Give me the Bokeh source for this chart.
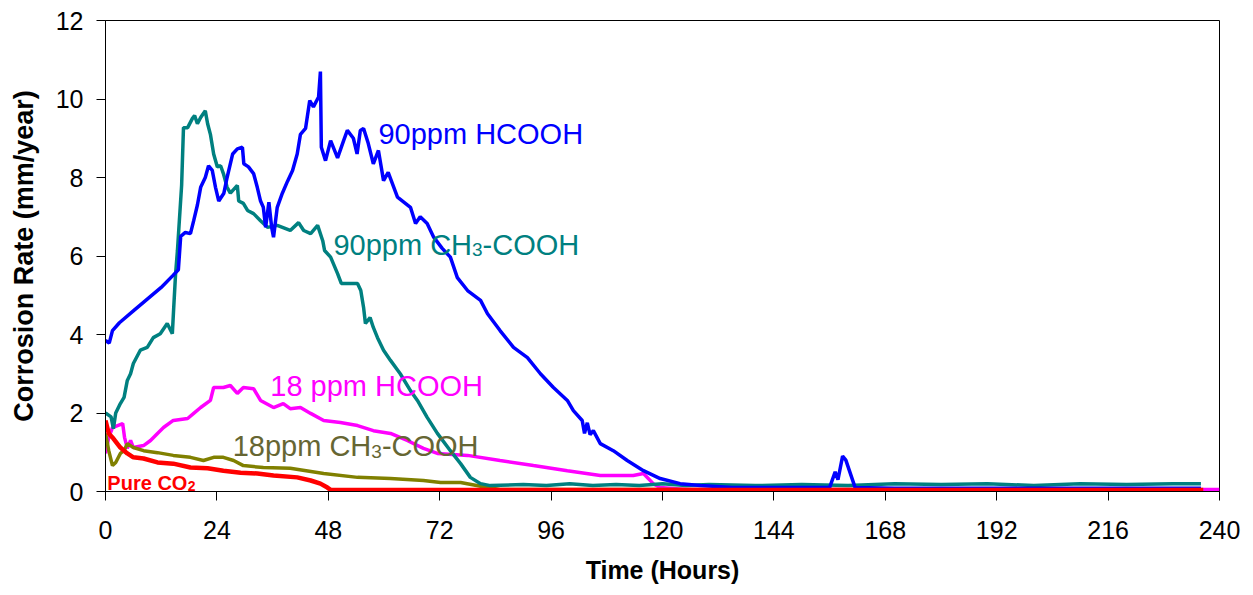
from bokeh.plotting import figure
from bokeh.models import FixedTicker, Range1d
from bokeh.core.properties import value
from bokeh.embed import file_html
from bokeh.resources import INLINE

# ---- data ----
x_ticks = [0, 24, 48, 72, 96, 120, 144, 168, 192, 216, 240]
y_ticks = [0, 2, 4, 6, 8, 10, 12]

hcooh90_t = [0, 0.8, 1.5, 3, 6, 9, 12, 14.5, 15.7, 16.2, 17.2, 18.3, 19, 19.8, 20.5, 21.5, 22.2, 23, 23.7, 24.4,
             25.5, 26.2, 27.4, 28.4, 29.5, 29.8, 30.8, 31.9, 32.7, 33.4, 34, 34.5, 35.2, 35.8, 36.2, 37, 38.1, 39.2,
             40.3, 41.3, 42, 43.1, 44, 44.8, 45.9, 46.3, 46.5, 47.4, 48.5, 50, 51.3, 52.1, 53.4, 54.2, 54.9, 55.6,
             56.6, 57.7, 58.8, 59.9, 60.9, 62.9, 65.7, 66.8, 67.8, 69.3, 70.7, 72.5, 74.3, 75.8, 78, 80.8, 82.3, 85,
             87.9, 90.9, 93.7, 96.5, 99.5, 100.8, 102.7, 103.2, 103.8, 104.4, 105.1, 106.6, 109.4, 112.4, 115.9,
             119.5, 123.8, 128.2, 135, 145, 156, 157.2, 157.8, 158.8, 159.5, 161.5, 170, 200, 236]
hcooh90_r = [3.85, 3.78, 4.1, 4.3, 4.6, 4.9, 5.2, 5.5, 5.65, 6.5, 6.6, 6.57, 6.9, 7.3, 7.75, 8.0, 8.3, 8.18, 7.75, 7.4,
             7.6, 8.0, 8.6, 8.73, 8.77, 8.35, 8.27, 8.1, 7.75, 7.4, 7.24, 6.73, 7.37, 6.73, 6.48, 7.24, 7.6, 7.9,
             8.18, 8.6, 9.1, 9.25, 9.96, 9.8, 10.05, 10.7, 8.77, 8.43, 8.94, 8.5, 8.94, 9.2, 9.0, 8.6, 9.2, 9.25,
             8.87, 8.35, 8.69, 7.92, 8.13, 7.5, 7.24, 6.83, 7.0, 6.83, 6.48, 6.2, 5.97, 5.45, 5.12, 4.87, 4.53, 4.1,
             3.67, 3.41, 3.0, 2.65, 2.32, 2.06, 1.81, 1.48, 1.75, 1.45, 1.55, 1.22, 1.04, 0.79, 0.53,
             0.33, 0.2, 0.15, 0.1, 0.1, 0.1, 0.5, 0.3, 0.9, 0.8, 0.1, 0.08, 0.08, 0.08]

acetic90_t = [0, 1.2, 1.7, 2.2, 3.2, 4, 4.7, 5.4, 6, 7.5, 9, 10.3, 11.8, 13.3, 14.4, 14.7, 15.1, 15.5, 16.4, 16.8,
              17.7, 18.7, 19.2, 19.8, 20.5, 21.5, 22, 22.6, 23.3, 24.1, 24.8, 25.4, 26.2, 26.9, 28.4, 28.7, 29.7,
              30.6, 31.9, 33.4, 34.9, 37, 39.8, 41.6, 42.7, 44.2, 45.7, 46.8, 47.2, 48.5, 50, 50.8, 52.1, 54.3, 55,
              55.6, 56, 57, 57.7, 58.6, 59.9, 61.4, 63.5, 65.7, 67.2, 69.3, 71.5, 74.3, 76.5, 78.6, 80.8, 82.9,
              90, 95, 100, 105, 110, 115, 120, 125, 130, 140, 150, 160, 170, 180, 190, 200, 210, 220, 230, 236]
acetic90_r = [2.0, 1.9, 1.6, 2.0, 2.24, 2.4, 2.83, 3.0, 3.26, 3.6, 3.67, 3.92, 4.02, 4.28, 4.02, 4.69, 5.55, 6.14, 7.8, 9.27,
              9.27, 9.5, 9.58, 9.37, 9.53, 9.7, 9.37, 9.1, 8.6, 8.27, 8.3, 8.1, 7.75, 7.6, 7.8, 7.4, 7.34,
              7.16, 7.08, 6.9, 6.73, 6.78, 6.65, 6.85, 6.65, 6.57, 6.78, 6.39, 6.14, 5.97, 5.55, 5.3, 5.3, 5.3, 5.12,
              4.69, 4.28, 4.43, 4.18, 3.92, 3.6, 3.34, 3.0, 2.57, 2.32, 1.89, 1.48, 1.04, 0.71, 0.36, 0.2, 0.15,
              0.18, 0.15, 0.2, 0.15, 0.18, 0.15, 0.2, 0.15, 0.18, 0.15, 0.18, 0.15, 0.2, 0.18, 0.2, 0.15, 0.2, 0.18, 0.2, 0.2]

hcooh18_t = [0, 0.7, 1.5, 2.6, 3.7, 4.1, 4.7, 5.4, 6, 8.2, 9.7, 11.2, 12.5, 14.6, 17.7, 19, 20.5, 22.6, 23.3, 25.4,
             26.9, 28.4, 29.7, 31.9, 33.4, 36.2, 38.3, 39.8, 42, 44.2, 47, 50.6, 54.3, 57.7, 61.4, 65, 68.5, 71.5,
             78, 85, 92.2, 99.5, 106.6, 113.7, 115.9, 118, 119.5, 125, 240]
hcooh18_r = [0.97, 1.38, 1.63, 1.68, 1.73, 1.38, 1.1, 1.3, 1.12, 1.17, 1.3, 1.48, 1.63, 1.81, 1.86, 1.99, 2.14, 2.32, 2.65, 2.65,
             2.7, 2.5, 2.65, 2.62, 2.32, 2.14, 2.24, 2.11, 2.14, 1.99, 1.81, 1.76, 1.68, 1.55, 1.48, 1.3, 1.1, 0.97,
             0.92, 0.79, 0.66, 0.53, 0.41, 0.41, 0.46, 0.2, 0.1, 0.05, 0.05]

acetic18_t = [0, 0.7, 1.5, 2.2, 3.2, 4, 4.7, 6, 8.2, 11.2, 14.6, 18.3, 21.1, 23.3, 25.4, 27.6, 29.7, 34, 39.8, 47,
              54.3, 61.4, 68.5, 72.2, 76.5, 81.4, 85, 236]
acetic18_r = [1.48, 1.04, 0.66, 0.74, 0.97, 1.04, 1.22, 1.12, 1.04, 0.99, 0.92, 0.87, 0.79, 0.87, 0.87, 0.79, 0.66, 0.61, 0.59, 0.46,
              0.36, 0.33, 0.28, 0.23, 0.23, 0.12, 0.05, 0.05]

co2_t = [0, 0.7, 1.7, 3.2, 4.7, 6, 8.2, 11.2, 14.6, 18.3, 22, 25.4, 29.1, 32.7, 36.2, 41.3, 44.2, 46.3, 47.8, 48.5, 236.5]
co2_r = [1.81, 1.48, 1.35, 1.12, 0.97, 0.87, 0.84, 0.74, 0.71, 0.61, 0.59, 0.53, 0.48, 0.46, 0.41, 0.36, 0.28, 0.2, 0.1, 0.04, 0.04]

# ---- figure ----
p = figure(width=1253, height=595, output_backend="svg", toolbar_location=None,
           x_range=Range1d(0, 240), y_range=Range1d(0, 12),
           min_border_left=105, min_border_right=34, min_border_top=20, min_border_bottom=104)
p.xgrid.visible = False
p.ygrid.visible = False
p.outline_line_color = "black"
p.outline_line_width = 1
p.background_fill_color = "white"
p.border_fill_color = "white"

FONT = "Liberation Sans"

for ax in (p.xaxis[0], p.yaxis[0]):
    ax.axis_line_color = "black"
    ax.major_tick_line_color = "black"
    ax.minor_tick_line_color = None
    ax.major_tick_out = 9
    ax.major_tick_in = 0
    ax.major_label_text_font = FONT
    ax.major_label_text_font_size = "25px"
    ax.major_label_text_color = "black"
    ax.axis_label_text_font = FONT
    ax.axis_label_text_font_style = "bold"
    ax.axis_label_text_color = "black"

p.xaxis.ticker = FixedTicker(ticks=x_ticks)
p.yaxis.ticker = FixedTicker(ticks=y_ticks)
p.xaxis.axis_label = "Time (Hours)"
p.yaxis.axis_label = "Corrosion Rate (mm/year)"
p.xaxis.axis_label_text_font_size = "25px"
p.yaxis.axis_label_text_font_size = "27px"
p.xaxis.major_label_standoff = 20
p.yaxis.major_label_standoff = 13
p.xaxis.axis_label_standoff = 14
p.yaxis.axis_label_standoff = 14

p.line(hcooh18_t, hcooh18_r, line_color="#FF00FF", line_width=3.5)
p.line(acetic18_t, acetic18_r, line_color="#808000", line_width=3.5)
p.line(acetic90_t, acetic90_r, line_color="#008080", line_width=3.5)
p.line(hcooh90_t, hcooh90_r, line_color="#0000FF", line_width=3.5)
p.line(co2_t, co2_r, line_color="#FF0000", line_width=4.5)

# ---- annotations ----
def txt(x, y, s, color, size, xo=0, yo=0, style="normal"):
    p.text(x=[x], y=[y], text=[s], text_color=color, text_font=value(FONT),
           text_font_size=size, text_baseline="middle", text_align="left",
           x_offset=xo, y_offset=yo, text_font_style=style)

txt(58.8, 9.12, "90ppm HCOOH", "#0000FF", "29px")

w_ch = 138.6
txt(49.1, 6.29, "90ppm CH", "#008080", "29px")
txt(49.1, 6.29, "3", "#008080", "19px", xo=w_ch, yo=5)
txt(49.1, 6.29, "-COOH", "#008080", "29px", xo=w_ch + 10.6)

txt(35.5, 2.70, "18 ppm HCOOH", "#FF00FF", "29px")

txt(27.4, 1.15, "18ppm CH", "#666633", "29px")
txt(27.4, 1.15, "3", "#666633", "19px", xo=w_ch, yo=5)
txt(27.4, 1.15, "-COOH", "#666633", "29px", xo=w_ch + 10.6)

txt(0.4, 0.22, "Pure CO", "#FF0000", "20px", style="bold")
txt(0.4, 0.22, "2", "#FF0000", "14px", xo=80.5, yo=3, style="bold")

open("out.html", "w").write(file_html(p, INLINE))
